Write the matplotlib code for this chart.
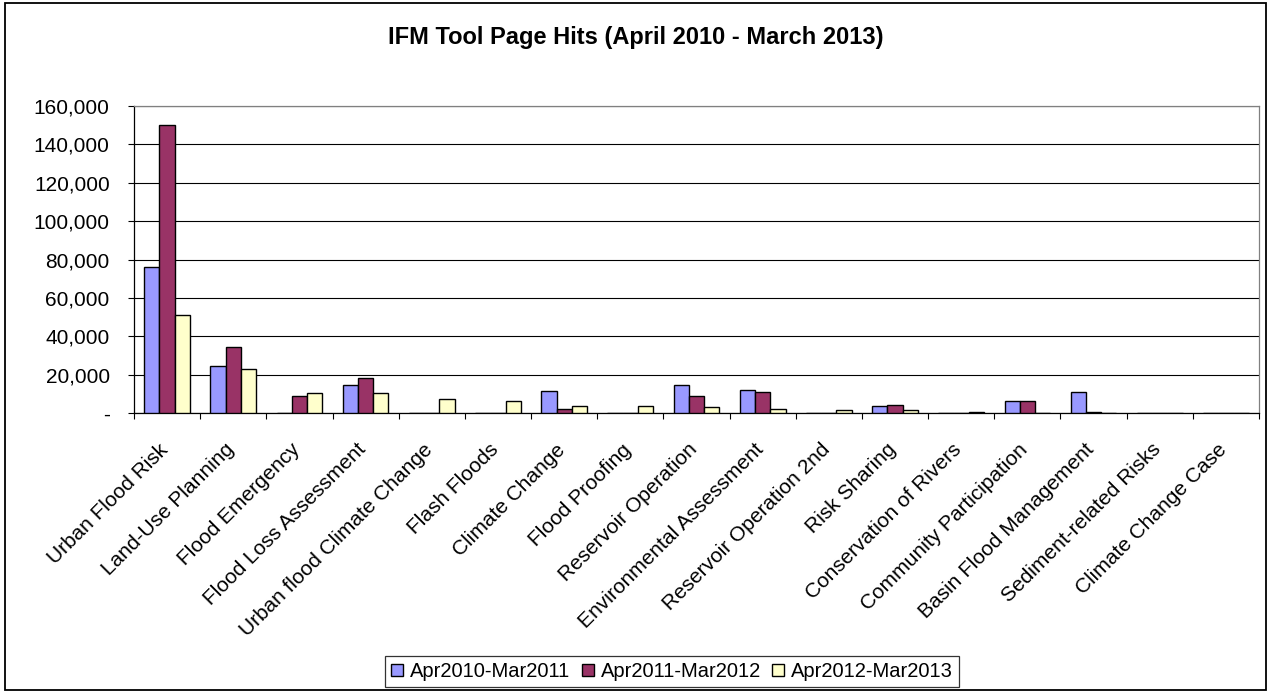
import matplotlib
matplotlib.use("Agg")
import matplotlib.pyplot as plt
import matplotlib.transforms as mtransforms
import numpy as np
from matplotlib.ticker import FuncFormatter, MultipleLocator
from matplotlib.patches import Rectangle

plt.rcParams['font.family'] = ['Liberation Sans', 'DejaVu Sans']

categories = ["Urban Flood Risk", "Land-Use Planning", "Flood Emergency", "Flood Loss Assessment",
              "Urban flood Climate Change", "Flash Floods", "Climate Change", "Flood Proofing",
              "Reservoir Operation", "Environmental Assessment", "Reservoir Operation 2nd",
              "Risk Sharing", "Conservation of Rivers", "Community Participation",
              "Basin Flood Management", "Sediment-related Risks", "Climate Change Case"]
series_names = ["Apr2010-Mar2011", "Apr2011-Mar2012", "Apr2012-Mar2013"]
s2010 = [76000, 24300, 0, 14400, 0, 0, 11500, 0, 14400, 12000, 0, 3600, 0, 6000, 10700, 0, 0]
s2011 = [150000, 34200, 9000, 18200, 0, 0, 2100, 0, 9000, 10700, 0, 4300, 0, 6000, 600, 0, 0]
s2012 = [51000, 22900, 10600, 10600, 7500, 6000, 3600, 3600, 2900, 2100, 1600, 1600, 700, 0, 0, 0, 0]
colors = ["#9999FF", "#993366", "#FFFFCC"]

W, H = 1271, 693
DPI = 100
fig = plt.figure(figsize=(W / DPI, H / DPI), dpi=DPI)
# outer chart border
fig.patches.append(Rectangle((5 / W, 3 / H), 1 - 10 / W, 1 - 6 / H, transform=fig.transFigure,
                             fill=False, edgecolor='black', linewidth=1.3))

left, right, top, bottom = 134, 1259, 106, 413
ax = fig.add_axes([left / W, 1 - bottom / H, (right - left) / W, (bottom - top) / H])

n = len(categories)
x = np.arange(n)
bw = 0.23
for i, (vals, c, name) in enumerate(zip([s2010, s2011, s2012], colors, series_names)):
    ax.bar(x + (i - 1) * bw, vals, width=bw, color=c, edgecolor='black', linewidth=1.0,
           label=name, zorder=3)

ax.set_xlim(-0.5, n - 0.5)
ax.set_ylim(0, 160000)
ax.yaxis.set_major_locator(MultipleLocator(20000))
ax.yaxis.set_major_formatter(FuncFormatter(lambda v, p: "-" if v == 0 else f"{int(v):,}"))
ax.grid(axis='y', color='black', linewidth=0.8, zorder=0)
ax.set_axisbelow(True)

ax.set_xticks(np.arange(n + 1) - 0.5)
ax.set_xticklabels([])
ax.tick_params(axis='x', which='major', length=4.5, direction='out', width=0.8)
ax.tick_params(axis='y', length=4.5, direction='out', width=0.8, labelsize=15, pad=13)

# category labels, rotated 45 degrees, ending just below each category centre
offset = mtransforms.ScaledTranslation(-9 / DPI, -27 / DPI, fig.dpi_scale_trans)
trans = ax.get_xaxis_transform() + offset
for xi, lab in zip(x, categories):
    ax.text(xi, 0, lab, transform=trans, rotation=45, ha='right', va='top',
            rotation_mode='anchor', fontsize=15, clip_on=False)

ax.spines['top'].set_color('#808080')
ax.spines['right'].set_color('#808080')
ax.spines['left'].set_color('black')
ax.spines['bottom'].set_color('black')
for s in ax.spines.values():
    s.set_linewidth(0.9)

fig.text(0.5, 1 - 37.5 / H, "IFM Tool Page Hits (April 2010 - March 2013)", ha='center', va='center',
         fontsize=17, fontweight='bold')

handles, labels = ax.get_legend_handles_labels()
leg = fig.legend(handles, labels, loc='center left', bbox_to_anchor=(385 / W, 1 - 671.5 / H), ncol=3,
                 frameon=True, fancybox=False, edgecolor='black', fontsize=14.5,
                 handlelength=0.6, handleheight=0.6, handletextpad=0.35, columnspacing=0.55,
                 borderpad=0.3, borderaxespad=0)
leg.get_frame().set_linewidth(0.9)

fig.savefig("out.png", dpi=DPI)
